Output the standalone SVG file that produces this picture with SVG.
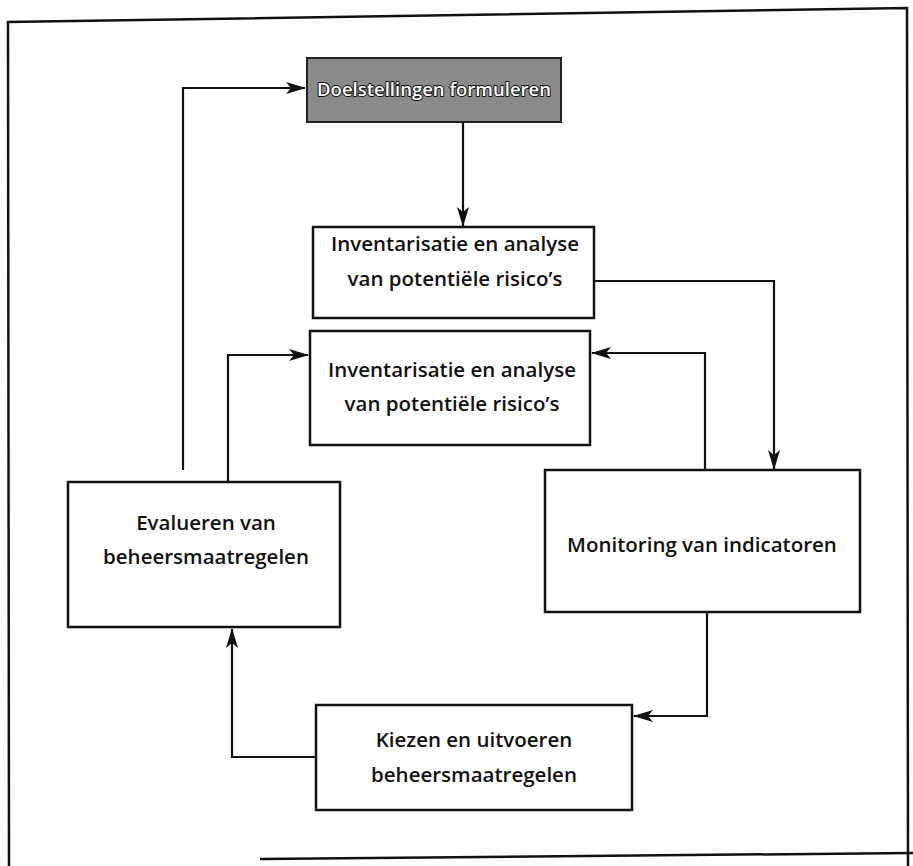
<svg xmlns="http://www.w3.org/2000/svg" width="913" height="866" viewBox="0 0 913 866">
<style>
.box{fill:#fff;stroke:#111;stroke-width:2.5}
.lbl{font-family:"Open Sans",Lato,sans-serif;font-weight:600;font-size:20.5px;fill:#111;text-anchor:middle}
.conn{fill:none;stroke:#111;stroke-width:2.2}
.frame{fill:none;stroke:#111;stroke-width:2.5}
</style>
<defs>
<marker id="ah" viewBox="0 0 20 12" refX="19" refY="6" markerWidth="20" markerHeight="12" markerUnits="userSpaceOnUse" orient="auto">
<path d="M0,0 L20,6 L0,12 L5,6 Z" fill="#111"/>
</marker>
</defs>
<rect width="913" height="866" fill="#fff"/>
<g id="frame">
<path class="frame" d="M9,866 L8,22 L907,8 L908,866"/>
<path class="frame" d="M260,859 L913,853"/>
</g>
<g id="connectors">
<path class="conn" d="M183,470 L183,88 L305,88" marker-end="url(#ah)"/>
<path class="conn" d="M463,123 L463,226" marker-end="url(#ah)"/>
<path class="conn" d="M594,281 L774,281 L774,469" marker-end="url(#ah)"/>
<path class="conn" d="M228,482 L228,355 L308,355" marker-end="url(#ah)"/>
<path class="conn" d="M705,470 L705,353 L592,353" marker-end="url(#ah)"/>
<path class="conn" d="M707,612 L707,716 L634,716" marker-end="url(#ah)"/>
<path class="conn" d="M316,757 L232,757 L232,629" marker-end="url(#ah)"/>
</g>
<g id="n-doel">
<rect x="307" y="58" width="254" height="64" fill="#8a8a8a" stroke="#222" stroke-width="2"/>
<text x="434" y="96" font-family="'Open Sans',Lato,sans-serif" font-weight="600" font-size="18.5" fill="#fff" stroke="#111" stroke-width="2" paint-order="stroke" stroke-linejoin="round" text-anchor="middle">Doelstellingen formuleren</text>
</g>
<g id="n-inv1">
<rect class="box" x="313" y="227" width="281" height="91"/>
<text class="lbl" x="455" y="251">Inventarisatie en analyse</text>
<text class="lbl" x="455" y="286">van potentiële risico’s</text>
</g>
<g id="n-inv2">
<rect class="box" x="310" y="331" width="280" height="114"/>
<text class="lbl" x="452" y="377">Inventarisatie en analyse</text>
<text class="lbl" x="452" y="411">van potentiële risico’s</text>
</g>
<g id="n-eval">
<rect class="box" x="68" y="482" width="272" height="145"/>
<text class="lbl" x="206" y="530">Evalueren van</text>
<text class="lbl" x="206" y="564">beheersmaatregelen</text>
</g>
<g id="n-mon">
<rect class="box" x="545" y="470" width="315" height="142"/>
<text class="lbl" x="702" y="552">Monitoring van indicatoren</text>
</g>
<g id="n-kiez">
<rect class="box" x="316" y="705" width="316" height="105"/>
<text class="lbl" x="474" y="747">Kiezen en uitvoeren</text>
<text class="lbl" x="474" y="782">beheersmaatregelen</text>
</g>
</svg>
